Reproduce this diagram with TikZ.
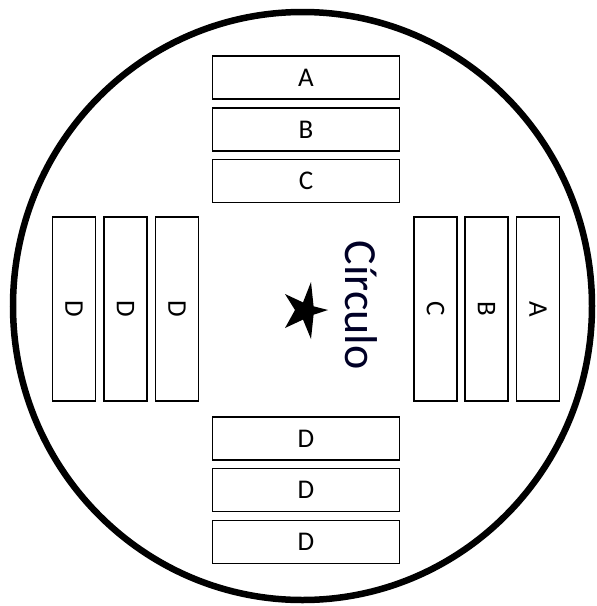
\documentclass[tikz,border=0pt]{standalone}
\usepackage{fontspec}
\setmainfont{Carlito}
\begin{document}
\begin{tikzpicture}[x=1pt,y=-1pt,
  seat/.style={draw=black,line width=1.3pt,fill=white,inner sep=0pt,font=\fontsize{27}{30}\selectfont},
  hseat/.style={seat,minimum width=187.5pt,minimum height=43pt},
  vseat/.style={seat,minimum width=43pt,minimum height=184pt}]
\useasboundingbox (0,0) rectangle (597,606);
\draw[line width=6.5pt] (302.5,306) ellipse [x radius=289.5pt, y radius=294pt];
% top
\node[hseat] (tA) at (306,77.5) {A};
\node[hseat] (tB) at (306,129.5) {B};
\node[hseat] (tC) at (306,181) {C};
% bottom
\node[hseat] (bD1) at (306,438.5) {D};
\node[hseat] (bD2) at (306,490) {D};
\node[hseat] (bD3) at (306,542) {D};
% left
\node[vseat] (lD1) at (74,309) {\rotatebox{-90}{D}};
\node[vseat] (lD2) at (125.5,309) {\rotatebox{-90}{D}};
\node[vseat] (lD3) at (177,309) {\rotatebox{-90}{D}};
% right
\node[vseat] (rC) at (435.5,309) {\rotatebox{-90}{C}};
\node[vseat] (rB) at (486.5,309) {\rotatebox{-90}{B}};
\node[vseat] (rA) at (538,309) {\rotatebox{-90}{A}};
% label
\node[inner sep=0pt,rotate=-90,font=\fontsize{46}{50}\selectfont,text=black!85!blue] (lbl) at (361,305) {Círculo};
% star
\fill (328,310) -- (313.6,306.3) -- (311,282) -- (303.0,302.4) -- (285,294) -- (295.0,310) -- (285,328) -- (303.0,319.6) -- (311,339) -- (313.6,314.7) -- cycle;
\end{tikzpicture}
\end{document}
